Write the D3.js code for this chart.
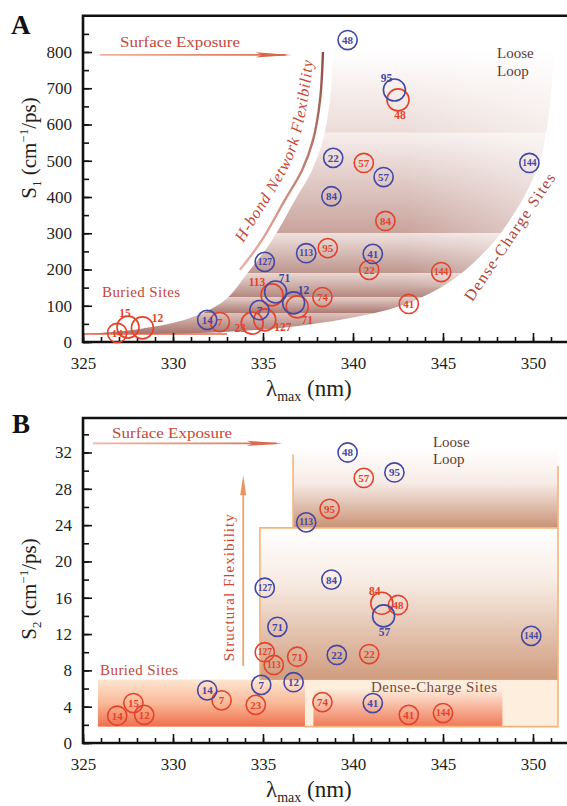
<!DOCTYPE html>
<html>
<head>
<meta charset="utf-8">
<script src="https://cdn.jsdelivr.net/npm/d3@7"></script>
<style>
  body { margin: 0; background: #fff; }
  svg { display: block; }
  text { font-family: "Liberation Serif", "Times New Roman", serif; }
</style>
</head>
<body>
<svg id="chart" width="567" height="806" font-family="Liberation Serif"></svg>
<script>
// ---------- Panel A: S1 versus emission maximum ----------
const aBlueSites  = [48, 95, 22, 57, 144, 84, 113, 41, 127, 71, 12, 7, 14];
const aBlueLambda = [339.7, 342.3, 338.9, 341.7, 349.8, 338.8, 337.4, 341.1, 335.1, 335.7, 336.7, 334.8, 331.9];
const aBlueS1     = [833, 695, 508, 455, 494, 402, 245, 243, 221, 138, 108, 88, 61];

const aRedSites   = [48, 57, 84, 95, 22, 144, 74, 41, 113, 71, 127, 23, 7, 12, 15, 14];
const aRedLambda  = [342.5, 340.6, 341.8, 338.6, 340.9, 344.9, 338.3, 343.1, 335.5, 336.9, 335.1, 334.4, 332.6, 328.3, 327.5, 326.9];
const aRedS1      = [668, 494, 334, 259, 199, 193, 124, 105, 130, 97, 61, 52, 55, 39, 41, 25];

// ---------- Panel B: S2 versus emission maximum ----------
const bBlueSites  = [48, 95, 113, 84, 127, 57, 144, 71, 22, 12, 7, 14, 41];
const bBlueLambda = [339.7, 342.3, 337.4, 338.8, 335.1, 341.7, 349.9, 335.8, 339.1, 336.7, 334.9, 331.9, 341.1];
const bBlueS2     = [32.0, 29.8, 24.3, 18.0, 17.1, 14.0, 11.8, 12.8, 9.7, 6.7, 6.4, 5.8, 4.4];

const bRedSites   = [57, 95, 84, 48, 127, 113, 71, 22, 74, 41, 144, 23, 7, 15, 12, 14];
const bRedLambda  = [340.6, 338.7, 341.6, 342.5, 335.1, 335.6, 336.9, 340.9, 338.3, 343.1, 345.0, 334.6, 332.7, 327.8, 328.4, 326.9];
const bRedS2      = [29.2, 25.8, 15.4, 15.2, 10.0, 8.6, 9.5, 9.8, 4.5, 3.1, 3.3, 4.2, 4.7, 4.4, 3.1, 3.0];

// ---------- Ticks ----------
const xTickLabels  = [325, 330, 335, 340, 345, 350];
const aYTickLabels = [0, 100, 200, 300, 400, 500, 600, 700, 800];
const bYTickLabels = [0, 4, 8, 12, 16, 20, 24, 28, 32];

// ---------- Annotation geometry (data units: nm, S) ----------
const aRegionLeft  = [[325, 22], [328.17, 36], [330.94, 66], [332.89, 116], [334.28, 199], [335.5, 281],
                      [336.78, 392], [337.72, 474], [338.33, 557], [338.72, 668], [338.94, 806]];
const aRegionRight = [[351.22, 806], [351.06, 723], [350.83, 612], [350.39, 502], [349.83, 433], [349.0, 359],
                      [347.89, 281], [346.5, 210], [344.83, 149], [342.61, 99], [339.83, 66], [335.94, 38.6], [331, 24], [325, 22]];
const aBandEdges   = [806, 577, 300, 190, 124, 80, 18];
const aHbondCurve  = [[333.72, 199], [334.94, 281], [336.22, 392], [337.17, 474], [337.78, 557], [338.17, 668], [338.33, 800]];
const aHbondText   = [[333.61, 248], [334.61, 331], [335.72, 419], [336.67, 508], [337.28, 612], [337.61, 709], [337.78, 778], [337.9, 830]];

const BLUE = "#4347a6", RED = "#e4432b";
const TXT_RED = "#c4473a", TXT_BROWN = "#5d3b33";
const SERIF = '"Liberation Serif", "Times New Roman", serif';

const svg = d3.select("#chart");
const defs = svg.append("defs");

const xA = d3.scaleLinear().domain([325, 352]).range([83, 569]);
const yA = d3.scaleLinear().domain([0, 900]).range([342, 15.75]);
const xB = d3.scaleLinear().domain([325, 352]).range([83, 569]);
const yB = d3.scaleLinear().domain([0, 35.8]).range([743, 418]);

function vGrad(id, stops) {
  const g = defs.append("linearGradient").attr("id", id)
    .attr("x1", 0).attr("y1", 0).attr("x2", 0).attr("y2", 1);
  stops.forEach(([o, c, op]) => g.append("stop").attr("offset", o).attr("stop-color", c).attr("stop-opacity", op == null ? 1 : op));
  return `url(#${id})`;
}
function hGrad(id, stops) {
  const g = defs.append("linearGradient").attr("id", id)
    .attr("x1", 0).attr("y1", 0).attr("x2", 1).attr("y2", 0);
  stops.forEach(([o, c, op]) => g.append("stop").attr("offset", o).attr("stop-color", c).attr("stop-opacity", op == null ? 1 : op));
  return `url(#${id})`;
}

function drawArrowH(g, x, y, x0, x1, yv, c0, c1, id) {
  const grad = defs.append("linearGradient").attr("id", id).attr("gradientUnits", "userSpaceOnUse")
    .attr("x1", x(x0)).attr("x2", x(x1)).attr("y1", 0).attr("y2", 0);
  grad.append("stop").attr("offset", 0).attr("stop-color", c0);
  grad.append("stop").attr("offset", 1).attr("stop-color", c1);
  const py = y(yv), px1 = x(x1);
  g.append("line").attr("x1", x(x0)).attr("x2", px1 - 6).attr("y1", py).attr("y2", py)
    .attr("stroke", `url(#${id})`).attr("stroke-width", 1.6);
  g.append("path").attr("d", `M${px1},${py} L${px1 - 36},${py - 2.6} L${px1 - 30},${py} L${px1 - 36},${py + 2.6} Z`)
    .attr("fill", c1);
}

function drawAxes(g, x, y, majorY, minorY) {
  const [bottom, top] = y.range();
  const left = x.range()[0];
  // minor ticks
  g.append("g").attr("transform", `translate(0,${bottom})`)
    .call(d3.axisBottom(x).tickValues(d3.range(325, 352, 1)).tickSize(-5).tickFormat(""))
    .call(s => s.select(".domain").remove());
  g.append("g").attr("transform", `translate(${left},0)`)
    .call(d3.axisLeft(y).tickValues(minorY).tickSize(-6).tickFormat(""))
    .call(s => s.select(".domain").remove());
  // major ticks with labels
  const xa = g.append("g").attr("transform", `translate(0,${bottom})`)
    .call(d3.axisBottom(x).tickValues(xTickLabels).tickSize(-9).tickPadding(15).tickSizeOuter(0));
  const ya = g.append("g").attr("transform", `translate(${left},0)`)
    .call(d3.axisLeft(y).tickValues(majorY).tickSize(-9).tickPadding(11).tickSizeOuter(0));
  [xa, ya].forEach(a => {
    a.attr("font-family", SERIF);
    a.select(".domain").remove();
    a.selectAll("text").attr("font-size", 17).attr("fill", "#231f20").attr("font-family", SERIF);
  });
  g.selectAll(".tick line").attr("stroke", "#111").attr("stroke-width", 1.6);
  // frame
  g.append("path").attr("d", `M567,${top} L${left},${top} L${left},${bottom} L567,${bottom}`)
    .attr("fill", "none").attr("stroke", "#111").attr("stroke-width", 2.6);
}

function drawSites(g, x, y, sites, lam, val, color, offsets) {
  const pts = sites.map((s, i) => ({ site: s, lx: lam[i], v: val[i], off: offsets[s] }));
  const grp = g.append("g");
  grp.selectAll("circle").data(pts).join("circle")
    .attr("cx", d => x(d.lx)).attr("cy", d => y(d.v))
    .attr("r", d => d.off ? 11 : 9.6)
    .attr("fill", "none").attr("stroke", color).attr("stroke-width", 1.6);
  grp.selectAll("text").data(pts).join("text")
    .attr("x", d => x(d.lx) + (d.off ? d.off[0] : 0))
    .attr("y", d => y(d.v) + (d.off ? d.off[1] : 0))
    .attr("text-anchor", "middle").attr("dominant-baseline", "central")
    .attr("font-weight", "bold")
    .attr("font-size", d => d.off ? 11.5 : (String(d.site).length > 2 ? 9.5 : 11))
    .attr("fill", color).text(d => d.site);
}

function yTitle(g, cx, cy, sub) {
  const t = g.append("text").attr("transform", `translate(${cx},${cy}) rotate(-90)`)
    .attr("text-anchor", "middle").attr("font-size", 21).attr("fill", "#231f20");
  t.append("tspan").text("S");
  t.append("tspan").attr("font-size", 13).attr("dy", 5).text(sub);
  t.append("tspan").attr("dy", -5).text(" (cm");
  t.append("tspan").attr("font-size", 13).attr("dy", -8).text("−1");
  t.append("tspan").attr("dy", 8).text("/ps)");
}
function xTitle(g, px, py) {
  const t = g.append("text").attr("x", px).attr("y", py).attr("font-size", 23).attr("fill", "#231f20");
  t.append("tspan").text("λ");
  t.append("tspan").attr("font-size", 14).attr("dy", 5).text("max");
  t.append("tspan").attr("dy", -5).text(" (nm)");
}

// ================= Panel A =================
const gA = svg.append("g");
{
  const edge = d3.line().x(d => xA(d[0])).y(d => yA(d[1])).curve(d3.curveCatmullRom);
  const regionPath = edge(aRegionLeft) + edge(aRegionRight).replace(/^M/, "L") + "Z";
  defs.append("clipPath").attr("id", "aClip").append("path").attr("d", regionPath);

  const bandStyles = [
    ["#ffffff", "#ecdcd8"], ["#f7efed", "#c8a39c"], ["#efe1de", "#bd958d"],
    ["#ead7d3", "#b38880"], ["#e5cdc8", "#aa7b73"], ["#dfc2bc", "#a26d65"]
  ];
  const shade = gA.append("g").attr("clip-path", "url(#aClip)");
  for (let i = 0; i < aBandEdges.length - 1; i++) {
    const fill = vGrad("aBand" + i, [[0, bandStyles[i][0]], [1, bandStyles[i][1]]]);
    shade.append("rect").attr("x", xA(325)).attr("width", xA(352) - xA(325))
      .attr("y", yA(aBandEdges[i])).attr("height", yA(aBandEdges[i + 1]) - yA(aBandEdges[i]))
      .attr("fill", fill);
  }
  // faint white sheen toward the outer edge
  shade.append("rect").attr("x", xA(343)).attr("width", xA(352) - xA(343))
    .attr("y", yA(806)).attr("height", yA(150) - yA(806))
    .attr("fill", hGrad("aSheen", [[0, "#fff", 0], [1, "#fff", 0.55]]));

  // buried-site baseline
  gA.append("line").attr("x1", xA(325)).attr("x2", xA(333)).attr("y1", yA(22)).attr("y2", yA(22))
    .attr("stroke", "#e0694f").attr("stroke-width", 1.6);

  // H-bond flexibility arrow (curved)
  const hg = defs.append("linearGradient").attr("id", "hbGrad").attr("gradientUnits", "userSpaceOnUse")
    .attr("x1", 0).attr("x2", 0).attr("y1", yA(200)).attr("y2", yA(800));
  hg.append("stop").attr("offset", 0).attr("stop-color", "#eab1a2");
  hg.append("stop").attr("offset", 1).attr("stop-color", "#8e4a40");
  gA.append("path").attr("d", edge(aHbondCurve)).attr("fill", "none")
    .attr("stroke", "url(#hbGrad)").attr("stroke-width", 2.4);
  defs.append("path").attr("id", "hbTextPath").attr("d", edge(aHbondText));
  gA.append("text").attr("font-size", 16).attr("font-style", "italic").attr("fill", "#c9452f")
    .append("textPath").attr("href", "#hbTextPath").attr("startOffset", "48%")
    .attr("text-anchor", "middle").attr("textLength", 198).attr("lengthAdjust", "spacing")
    .text("H-bond Network Flexibility");

  // Surface exposure arrow
  drawArrowH(gA, xA, yA, 325.94, 336.6, 792, "#f3b29e", "#d9674c", "aSurf");
  gA.append("text").attr("x", xA(330.39)).attr("y", yA(814)).attr("text-anchor", "middle")
    .attr("font-size", 15).attr("fill", TXT_RED).attr("textLength", 120).attr("lengthAdjust", "spacingAndGlyphs")
    .text("Surface Exposure");

  gA.append("text").attr("x", xA(326.06)).attr("y", yA(124)).attr("font-size", 15).attr("fill", TXT_RED)
    .attr("textLength", 78).text("Buried Sites");

  gA.append("text").attr("x", xA(348.0)).attr("y", yA(783)).attr("font-size", 15).attr("fill", TXT_BROWN).text("Loose");
  gA.append("text").attr("x", xA(348.0)).attr("y", yA(734)).attr("font-size", 15).attr("fill", TXT_BROWN).text("Loop");

  gA.append("text").attr("transform", `translate(${xA(348.7)},${yA(290)}) rotate(-56)`)
    .attr("text-anchor", "middle").attr("dominant-baseline", "central")
    .attr("font-size", 16).attr("fill", "#b4463a").attr("textLength", 150).attr("lengthAdjust", "spacing")
    .text("Dense-Charge Sites");

  drawAxes(gA, xA, yA, aYTickLabels, d3.range(0, 900, 50));

  drawSites(gA, xA, yA, aRedSites, aRedLambda, aRedS1, RED,
    { 48: [2, 15], 113: [-15, -13], 71: [10, 13], 127: [18, 7], 23: [-12, 5], 15: [-3, -14], 12: [15, -10] });
  drawSites(gA, xA, yA, aBlueSites, aBlueLambda, aBlueS1, BLUE,
    { 95: [-8, -12], 71: [9, -14], 12: [10, -13] });

  yTitle(gA, 36, 148, "1");
  xTitle(gA, 266, 396);
  gA.append("text").attr("x", 11).attr("y", 34).attr("font-size", 27).attr("font-weight", "bold")
    .attr("fill", "#111").text("A");
}

// ================= Panel B =================
const gB = svg.append("g");
{
  const L = xB(334.83), R = xB(351.39), Lloose = xB(336.67);
  const orange = "#f2b57c";
  // middle region (structural flexibility)
  gB.append("rect").attr("x", L).attr("width", R - L).attr("y", yB(23.7)).attr("height", yB(7.0) - yB(23.7))
    .attr("fill", vGrad("bMid", [[0, "#ffffff"], [0.35, "#f8ece4"], [1, "#d09c7e"]]));
  // loose loop region
  gB.append("rect").attr("x", Lloose).attr("width", R - Lloose).attr("y", yB(32.6)).attr("height", yB(23.7) - yB(32.6))
    .attr("fill", vGrad("bLoose", [[0, "#ffffff"], [0.45, "#f6ebe5"], [1, "#c99276"]]));
  // dense-charge region
  gB.append("rect").attr("x", L).attr("width", R - L).attr("y", yB(7.0)).attr("height", yB(1.8) - yB(7.0))
    .attr("fill", "#fdeedd");
  gB.append("rect").attr("x", xB(337.8)).attr("width", xB(348.3) - xB(337.8)).attr("y", yB(6.0)).attr("height", yB(1.8) - yB(6.0))
    .attr("fill", vGrad("bDense", [[0, "#fdeedd"], [1, "#f07a58"]]));
  // buried region
  gB.append("rect").attr("x", xB(325.83)).attr("width", xB(337.33) - xB(325.83)).attr("y", yB(7.0)).attr("height", yB(1.8) - yB(7.0))
    .attr("fill", vGrad("bBuried", [[0, "#fde6d2"], [0.5, "#f9b998"], [1, "#ef6f4d"]]));

  // outlines
  const outl = gB.append("g").attr("fill", "none").attr("stroke", orange).attr("stroke-width", 1.6);
  outl.append("path").attr("d", `M${Lloose},${yB(31.8)} L${Lloose},${yB(23.7)}`);
  outl.append("path").attr("d", `M${R},${yB(30.5)} L${R},${yB(1.8)} L${xB(337.33)},${yB(1.8)}`);
  outl.append("path").attr("d", `M${L},${yB(7.0)} L${L},${yB(23.7)} L${R},${yB(23.7)}`);
  outl.append("path").attr("d", `M${L},${yB(7.0)} L${R},${yB(7.0)}`).attr("stroke", "#dca383").attr("stroke-width", 1.2);

  // structural flexibility arrow
  const ax = xB(333.9);
  gB.append("line").attr("x1", ax).attr("x2", ax).attr("y1", yB(8.5)).attr("y2", yB(28.5))
    .attr("stroke", "#efa572").attr("stroke-width", 1.8);
  gB.append("path").attr("d", `M${ax},${yB(29.5)} L${ax - 3},${yB(27.3)} L${ax + 3},${yB(27.3)} Z`).attr("fill", "#ea9560");
  gB.append("text").attr("transform", `translate(${xB(333.1)},${yB(17.1)}) rotate(-90)`)
    .attr("text-anchor", "middle").attr("dominant-baseline", "central")
    .attr("font-size", 15).attr("fill", "#d2462e").attr("textLength", 147).attr("lengthAdjust", "spacing")
    .text("Structural Flexibility");

  drawArrowH(gB, xB, yB, 325.55, 336.1, 33.0, "#f4b6a2", "#db6a4f", "bSurf");
  gB.append("text").attr("x", xB(329.95)).attr("y", yB(33.6)).attr("text-anchor", "middle")
    .attr("font-size", 15).attr("fill", TXT_RED).attr("textLength", 120).attr("lengthAdjust", "spacingAndGlyphs")
    .text("Surface Exposure");

  gB.append("text").attr("x", xB(325.95)).attr("y", yB(7.5)).attr("font-size", 15).attr("fill", TXT_RED)
    .attr("textLength", 78).text("Buried Sites");
  gB.append("text").attr("x", xB(344.5)).attr("y", yB(5.6)).attr("text-anchor", "middle")
    .attr("font-size", 15).attr("fill", "#7b4a3b").attr("textLength", 126).text("Dense-Charge Sites");

  gB.append("text").attr("x", xB(344.44)).attr("y", yB(32.6)).attr("font-size", 15).attr("fill", TXT_BROWN).text("Loose");
  gB.append("text").attr("x", xB(344.44)).attr("y", yB(30.7)).attr("font-size", 15).attr("fill", TXT_BROWN).text("Loop");

  drawAxes(gB, xB, yB, bYTickLabels, d3.range(0, 36, 2));

  drawSites(gB, xB, yB, bRedSites, bRedLambda, bRedS2, RED, { 84: [-7, -12] });
  drawSites(gB, xB, yB, bBlueSites, bBlueLambda, bBlueS2, BLUE, { 57: [1, 16] });

  yTitle(gB, 36, 589, "2");
  xTitle(gB, 266, 797);
  gB.append("text").attr("x", 12).attr("y", 433).attr("font-size", 27).attr("font-weight", "bold")
    .attr("fill", "#111").text("B");
}
</script>
</body>
</html>
